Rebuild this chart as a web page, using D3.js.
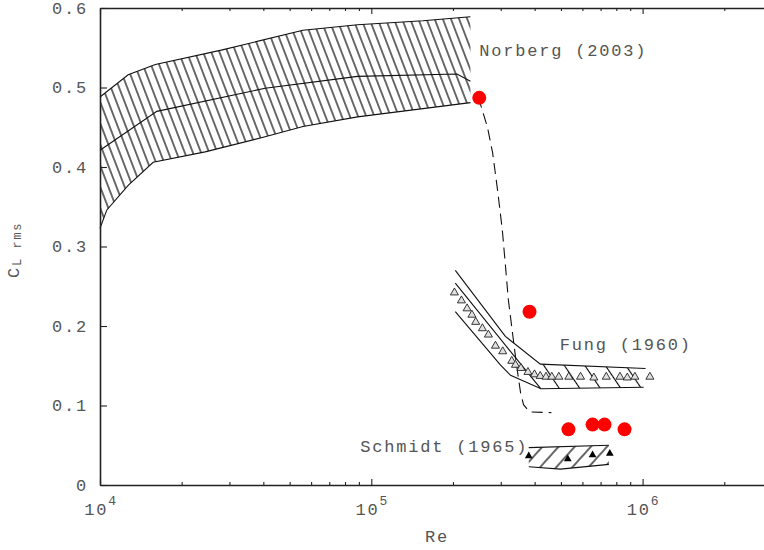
<!DOCTYPE html>
<html><head><meta charset="utf-8">
<script src="https://cdn.jsdelivr.net/npm/d3@7"></script>
<style>
body{margin:0;background:#fff;}
svg text{font-family:"Liberation Mono",monospace;fill:#555;}
</style></head><body>
<svg id="c" width="764" height="550"></svg>
<script>
// ---------- data ----------
const yTicks = [0, 0.1, 0.2, 0.3, 0.4, 0.5, 0.6];
const yTickLabels = ["0", "0.1", "0.2", "0.3", "0.4", "0.5", "0.6"];
const xMajor = [1e4, 1e5, 1e6];
const xMajorExp = ["4", "5", "6"];
const xMinor = [2e4, 3e4, 4e4, 5e4, 6e4, 7e4, 8e4, 9e4,
                2e5, 3e5, 4e5, 5e5, 6e5, 7e5, 8e5, 9e5, 2e6];

// Norberg (2003) band
const norbergUpperRe = [1.0e4, 1.27e4, 1.6e4, 2.8e4, 5.6e4, 8.9e4, 1.55e5, 2.32e5];
const norbergUpperCL = [0.488, 0.516, 0.529, 0.547, 0.572, 0.579, 0.584, 0.589];
const norbergMeanRe = [1.0e4, 1.62e4, 4.06e4, 8.9e4, 2.07e5, 2.32e5];
const norbergMeanCL = [0.421, 0.470, 0.499, 0.514, 0.517, 0.508];
const norbergLowerRe = [1.0e4, 1.06e4, 1.27e4, 1.57e4, 2.44e4, 4.06e4, 5.6e4, 8.9e4, 2.32e5];
const norbergLowerCL = [0.323, 0.346, 0.377, 0.406, 0.419, 0.438, 0.451, 0.463, 0.481];

// dashed transition curve
const dashRe = [2.48e5, 2.68e5, 2.80e5, 2.92e5, 3.04e5, 3.12e5, 3.20e5, 3.31e5, 3.43e5, 3.55e5, 3.64e5, 3.83e5, 4.61e5];
const dashCL = [0.488, 0.450, 0.418, 0.371, 0.321, 0.277, 0.233, 0.193, 0.151, 0.116, 0.101, 0.092, 0.091];

// red points (present study)
const redRe = [2.50e5, 3.83e5, 5.33e5, 6.54e5, 7.24e5, 8.58e5];
const redCL = [0.487, 0.218, 0.070, 0.076, 0.076, 0.070];

// Fung (1960)
const fungUpperRe = [2.04e5, 3.12e5, 4.20e5, 1.025e6];
const fungUpperCL = [0.270, 0.187, 0.152, 0.1465];
const fungMidRe = [2.04e5, 3.46e5, 4.22e5];
const fungMidCL = [0.254, 0.157, 0.121];
const fungLowerRe = [2.04e5, 2.99e5, 3.26e5, 4.22e5, 1.009e6];
const fungLowerCL = [0.218, 0.151, 0.138, 0.121, 0.123];
const fungHatchUpperRe = [3.60e5, 4.20e5, 1.025e6];
const fungHatchUpperCL = [0.166, 0.152, 0.1465];
const fungHatchLowerRe = [4.22e5, 1.009e6];
const fungHatchLowerCL = [0.121, 0.123];
const fungTriRe = [2.025e5, 2.149e5, 2.255e5, 2.349e5, 2.426e5, 2.568e5, 2.702e5, 2.869e5, 3.051e5,
                   3.294e5, 3.399e5, 3.561e5, 3.780e5, 3.995e5, 4.193e5, 4.405e5, 4.628e5, 4.912e5,
                   5.346e5, 5.905e5, 6.613e5, 7.347e5, 8.251e5, 8.781e5, 9.367e5, 1.064e6];
const fungTriCL = [0.242, 0.232, 0.222, 0.214, 0.205, 0.197, 0.189, 0.175, 0.168,
                   0.156, 0.151, 0.147, 0.142, 0.139, 0.137, 0.136, 0.136, 0.136,
                   0.136, 0.136, 0.135, 0.136, 0.136, 0.135, 0.136, 0.136];

// Schmidt (1965)
const schmidtUpperRe = [3.805e5, 7.51e5];
const schmidtUpperCL = [0.047, 0.050];
const schmidtLowerRe = [3.805e5, 4.98e5, 7.51e5];
const schmidtLowerCL = [0.023, 0.020, 0.026];
const schmidtTriRe = [3.805e5, 5.30e5, 6.54e5, 7.57e5];
const schmidtTriCL = [0.0365, 0.0327, 0.0377, 0.0396];

// labels
const labels = [
  {text: "Norberg (2003)", re: 2.50e5, cl: 0.540},
  {text: "Fung (1960)", re: 4.95e5, cl: 0.170},
  {text: "Schmidt (1965)", re: 9.11e4, cl: 0.0415}
];

// ---------- drawing ----------
(function () {
const svg = d3.select("#c");
const padL = 100, padT = 8, padB = 485, decade = 271.3;
const x = d3.scaleLog().domain([1e4, 3e6]).range([padL, padL + decade * Math.log10(300)]);
const y = d3.scaleLinear().domain([0, 0.6]).range([padB, padT]);

const pts = (re, cl) => re.map((r, i) => [x(r), y(cl[i])]);
const line = d3.line();
const defs = svg.append("defs");

function hatch(id, spacing, angle, sw) {
  const p = defs.append("pattern").attr("id", id)
    .attr("patternUnits", "userSpaceOnUse")
    .attr("width", spacing).attr("height", spacing)
    .attr("patternTransform", `rotate(${angle})`);
  p.append("line").attr("x1", spacing / 2).attr("x2", spacing / 2)
    .attr("y1", -1).attr("y2", spacing + 1)
    .attr("stroke", "#000").attr("stroke-width", sw);
}
hatch("hN", 7.6, -21, 1.15);
hatch("hF", 17, -34, 1.1);
hatch("hS", 12, 42, 1.2);

function band(upRe, upCL, loRe, loCL, pat) {
  const poly = pts(upRe, upCL).concat(pts(loRe, loCL).reverse());
  svg.append("path").attr("d", line(poly) + "Z")
    .attr("fill", `url(#${pat})`).attr("stroke", "none");
}
function curve(re, cl, dash) {
  svg.append("path").attr("d", line(pts(re, cl)))
    .attr("fill", "none").attr("stroke", "#111").attr("stroke-width", 1.1)
    .attr("stroke-dasharray", dash || null);
}

// Norberg
band(norbergUpperRe, norbergUpperCL, norbergLowerRe, norbergLowerCL, "hN");
curve(norbergUpperRe, norbergUpperCL);
curve(norbergMeanRe, norbergMeanCL);
curve(norbergLowerRe, norbergLowerCL);

// Fung
band(fungHatchUpperRe, fungHatchUpperCL, fungHatchLowerRe, fungHatchLowerCL, "hF");
curve(fungUpperRe, fungUpperCL);
curve(fungMidRe, fungMidCL);
curve(fungLowerRe, fungLowerCL);

// Schmidt
band(schmidtUpperRe, schmidtUpperCL, schmidtLowerRe, schmidtLowerCL, "hS");
curve(schmidtUpperRe, schmidtUpperCL);
curve(schmidtLowerRe, schmidtLowerCL);

// dashed
curve(dashRe, dashCL, "11,6");

// triangles
svg.append("g").selectAll("path").data(fungTriRe).join("path")
  .attr("d", d3.symbol(d3.symbolTriangle, 28))
  .attr("transform", (d, i) => `translate(${x(d)},${y(fungTriCL[i])})`)
  .attr("fill", "#e0e0e0").attr("stroke", "#222").attr("stroke-width", 0.9);
svg.append("g").selectAll("path").data(schmidtTriRe).join("path")
  .attr("d", d3.symbol(d3.symbolTriangle, 26))
  .attr("transform", (d, i) => `translate(${x(d)},${y(schmidtTriCL[i])})`)
  .attr("fill", "#000");

// red dots
svg.append("g").selectAll("circle").data(redRe).join("circle")
  .attr("cx", d => x(d)).attr("cy", (d, i) => y(redCL[i])).attr("r", 7)
  .attr("fill", "#ff0000");

// ---------- axes ----------
function styleAxis(g, w) {
  g.select(".domain").attr("stroke", "#222").attr("stroke-width", w);
  g.selectAll(".tick line").attr("stroke", "#222").attr("stroke-width", 1.1);
  g.selectAll(".tick text").remove();
}
const gB = svg.append("g").attr("transform", `translate(0,${padB})`)
  .call(d3.axisBottom(x).tickValues(xMajor).tickSize(-6).tickSizeOuter(0));
styleAxis(gB, 1.6);
const gBm = svg.append("g").attr("transform", `translate(0,${padB})`)
  .call(d3.axisBottom(x).tickValues(xMinor).tickSize(-3).tickSizeOuter(0));
styleAxis(gBm, 0);
const gT = svg.append("g").attr("transform", `translate(0,${padT})`)
  .call(d3.axisTop(x).tickValues(xMajor).tickSize(-6).tickSizeOuter(0));
styleAxis(gT, 1.6);
const gTm = svg.append("g").attr("transform", `translate(0,${padT})`)
  .call(d3.axisTop(x).tickValues(xMinor).tickSize(-3).tickSizeOuter(0));
styleAxis(gTm, 0);
const gL = svg.append("g").attr("transform", `translate(${padL},0)`)
  .call(d3.axisLeft(y).tickValues(yTicks).tickSize(-7).tickSizeOuter(0));
styleAxis(gL, 1.6);

const fs = 17, ls = 1.8;
// y tick labels
svg.append("g").selectAll("text").data(yTicks).join("text")
  .attr("x", 88).attr("y", d => y(d)).attr("dy", "0.35em")
  .attr("text-anchor", "end").attr("font-size", fs).attr("letter-spacing", ls)
  .text((d, i) => yTickLabels[i]);
// x tick labels
const xl = svg.append("g").selectAll("text").data(xMajor).join("text")
  .attr("x", d => x(d) + 1).attr("y", 515).attr("text-anchor", "middle")
  .attr("font-size", fs).attr("letter-spacing", ls);
xl.append("tspan").text("10");
xl.append("tspan").attr("dy", -10).attr("font-size", 13).text((d, i) => xMajorExp[i]);

// axis titles
svg.append("text").attr("x", 437).attr("y", 542).attr("text-anchor", "middle")
  .attr("font-size", fs).attr("letter-spacing", ls).text("Re");
const yl = svg.append("text").attr("transform", "translate(19,278) rotate(-90)")
  .attr("font-size", fs).attr("letter-spacing", ls);
yl.append("tspan").text("C");
yl.append("tspan").attr("dy", 2).attr("font-size", 12).attr("letter-spacing", 1.6).text("L rms");

// series labels
svg.append("g").selectAll("text").data(labels).join("text")
  .attr("x", d => x(d.re)).attr("y", d => y(d.cl))
  .attr("font-size", fs).attr("letter-spacing", ls)
  .text(d => d.text);
})();
</script>
</body></html>
